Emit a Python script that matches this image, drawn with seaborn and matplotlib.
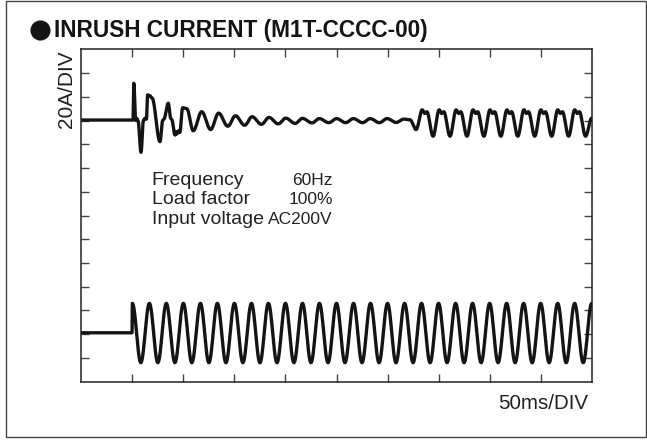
import numpy as np
import pandas as pd
import matplotlib
matplotlib.use("Agg")
import matplotlib.pyplot as plt
import seaborn as sns
from matplotlib.lines import Line2D
from matplotlib.patches import Rectangle

# ---------------- data (time in ms, level in divisions) ----------------
title = "INRUSH CURRENT (M1T-CCCC-00)"
y_label = "20A/DIV"
x_label = "50ms/DIV"
info_labels = ["Frequency", "Load factor", "Input voltage"]
info_values = ["60Hz", "100%", "AC200V"]

x_ticks = [50, 100, 150, 200, 250, 300, 350, 400, 450]
y_ticks = [1, 2, 3, 4, 5, 6, 7, 8, 9, 10, 11, 12, 13]

# upper trace (input current) knots: time [ms], level [div]
upper_t = [0.0, 50.6, 51.4, 53.3, 54.5, 55.6, 58.5, 60.8, 62.6, 63.8, 65.0, 67.0, 69.3,
           77.1, 79.7, 80.8, 85.2, 87.6, 88.6, 91.8, 93.0, 93.8, 95.2, 96.5, 99.3, 103.3,
           109.7, 117.9, 126.7, 134.5, 143.5, 151.0, 160.0, 167.3, 176.5, 183.8, 193.0,
           200.2, 209.5, 216.7, 226.0, 233.2, 242.5, 250.0, 259.0, 266.5, 275.5, 283.0,
           292.0, 299.5, 308.5, 316.0, 322.0, 328.0,
           334.0, 336.5, 338.5, 344.6,
           350.6, 353.1, 355.1, 361.2,
           367.2, 369.7, 371.7, 377.8,
           383.8, 386.3, 388.3, 394.4,
           400.4, 402.9, 404.9, 411.0,
           417.0, 419.5, 421.5, 427.6,
           433.6, 436.1, 438.1, 444.2,
           450.2, 452.7, 454.7, 460.8,
           466.8, 469.3, 471.3, 477.4,
           483.4, 485.9, 487.9, 494.0,
           500.0]
upper_v = [11.02, 11.02, 12.57, 11.00, 11.08, 10.98, 9.66, 11.00, 11.10, 11.06, 12.08, 12.05, 11.95,
           10.11, 11.00, 11.05, 11.73, 11.09, 11.04, 10.39, 10.52, 10.44, 10.56, 10.50, 11.54, 11.50,
           10.57, 11.37, 10.62, 11.31, 10.76, 11.20, 10.80, 11.16, 10.84, 11.13, 10.86,
           11.10, 10.88, 11.09, 10.90, 11.08, 10.91, 11.08, 10.91, 11.08, 10.91, 11.08,
           10.91, 11.08, 10.92, 11.06, 11.03, 10.62,
           11.45, 11.30, 11.37, 10.34,
           11.45, 11.30, 11.37, 10.34,
           11.45, 11.30, 11.37, 10.34,
           11.45, 11.30, 11.37, 10.34,
           11.45, 11.30, 11.37, 10.34,
           11.45, 11.30, 11.37, 10.34,
           11.45, 11.30, 11.37, 10.34,
           11.45, 11.30, 11.37, 10.34,
           11.45, 11.30, 11.37, 10.34,
           11.45, 11.30, 11.37, 10.34,
           11.10]

# lower trace (input voltage) knots
lower_t = [0.0, 49.7, 50.0, 58.3, 66.7, 75.0, 83.3, 91.7, 100.0, 108.3, 116.7, 125.0, 133.3,
           141.7, 150.0, 158.3, 166.7, 175.0, 183.3, 191.7, 200.0, 208.3, 216.7, 225.0,
           233.3, 241.7, 250.0, 258.3, 266.7, 275.0, 283.3, 291.7, 300.0, 308.3, 316.7,
           325.0, 333.3, 341.7, 350.0, 358.3, 366.7, 375.0, 383.3, 391.7, 400.0, 408.3,
           416.7, 425.0, 433.3, 441.7, 450.0, 458.3, 466.7, 475.0, 483.3, 491.7, 500.0]
lower_v = [2.06, 2.06, 3.30, 0.80, 3.30, 0.80, 3.30, 0.80, 3.30, 0.80, 3.30, 0.80, 3.30,
           0.80, 3.30, 0.80, 3.30, 0.80, 3.30, 0.80, 3.30, 0.80, 3.30, 0.80,
           3.30, 0.80, 3.30, 0.80, 3.30, 0.80, 3.30, 0.80, 3.30, 0.80, 3.30,
           0.80, 3.30, 0.80, 3.30, 0.80, 3.30, 0.80, 3.30, 0.80, 3.30, 0.80,
           3.30, 0.80, 3.30, 0.80, 3.30, 0.80, 3.30, 0.80, 3.30, 0.80, 3.30]


def smooth_trace(ts, vs, per_ms=3):
    """Render a trace smoothly between knots (eased segments, like a scope trace)."""
    out_t, out_v = [ts[0]], [vs[0]]
    for (t0, v0, t1, v1) in zip(ts[:-1], vs[:-1], ts[1:], vs[1:]):
        n = max(6, int((t1 - t0) * per_ms))
        s = np.linspace(0, 1, n + 1)[1:]
        out_t.extend(t0 + (t1 - t0) * s)
        out_v.extend(v0 + (v1 - v0) * (1 - np.cos(np.pi * s)) / 2)
    return pd.DataFrame({"t": out_t, "v": out_v})


up = smooth_trace(upper_t, upper_v)
lo = smooth_trace(lower_t, lower_v)

# ---------------- figure ----------------
sns.set_style("ticks")
plt.rcParams["font.family"] = ["Liberation Sans", "DejaVu Sans"]

W, H = 647, 441
fig = plt.figure(figsize=(W / 100, H / 100), dpi=100)
fig.patch.set_facecolor("white")

L, R, T, B = 81.3, 591.7, 49.3, 381.7
ax = fig.add_axes([L / W, 1 - B / H, (R - L) / W, (B - T) / H])

line_kw = dict(color="#141414", linewidth=2.4, estimator=None, sort=False,
               solid_joinstyle="round", solid_capstyle="round")
sns.lineplot(data=up, x="t", y="v", ax=ax, **line_kw)
sns.lineplot(data=lo, x="t", y="v", ax=ax, **line_kw)

ax.set_xlim(0, 500)
ax.set_ylim(0, 14)
ax.set_xticks(x_ticks)
ax.set_yticks(y_ticks)
ax.tick_params(axis="both", direction="in", length=5.5, width=1.0, color="#444444",
               top=True, right=True, bottom=True, left=True,
               labelbottom=False, labelleft=False)
for sp in ax.spines.values():
    sp.set_linewidth(1.1)
    sp.set_color("#222222")
    sp.set_visible(True)
ax.set_xlabel("")
ax.set_ylabel("")

# info text
info_y = [8.29, 7.47, 6.64]
for lab, val, yy in zip(info_labels, info_values, info_y):
    ax.text(69, yy, lab, fontsize=14, color="#222222", va="baseline", ha="left")
    ax.text(246.6, yy, val, fontsize=12.5, color="#222222", va="baseline", ha="right")

# title with bullet
fig.add_artist(Line2D([39.5 / W], [1 - 29.5 / H], marker="o", markersize=13.5,
                      color="#141414", transform=fig.transFigure))
fig.text(54 / W, 1 - 36.7 / H, title, fontsize=16.3, fontweight="bold",
         color="#141414", ha="left", va="baseline")

# axis labels
fig.text(66.5 / W, 1 - 89 / H, y_label, rotation=90, fontsize=15, color="#222222",
         ha="center", va="center")
fig.text(588 / W, 1 - 409.3 / H, x_label, fontsize=14.8, color="#222222",
         ha="right", va="baseline")

# outer frame
fig.add_artist(Rectangle((6 / W, 1 - 437 / H), (646 - 6) / W, (437 - 1) / H,
                         transform=fig.transFigure, fill=False,
                         edgecolor="#444444", linewidth=1.0))

fig.savefig("out.png", dpi=100)
